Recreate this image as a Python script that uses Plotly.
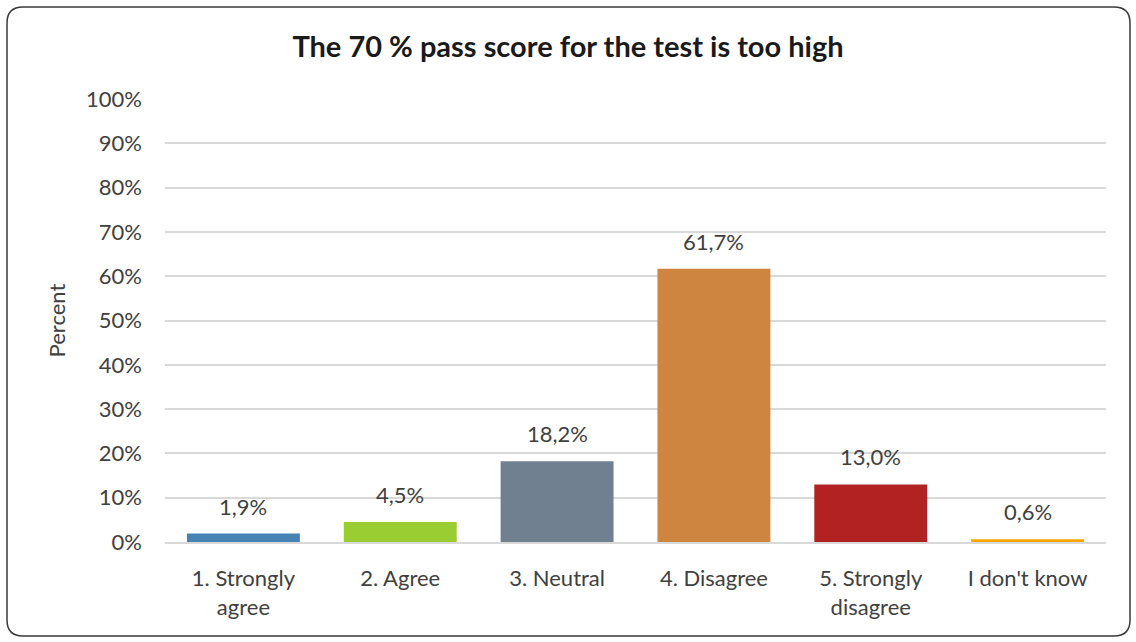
import plotly.graph_objects as go

# Survey answers and their share of respondents (percent)
categories = ["1. Strongly<br>agree", "2. Agree", "3. Neutral", "4. Disagree",
              "5. Strongly<br>disagree", "I don't know"]
percent = [1.9, 4.5, 18.2, 61.7, 13.0, 0.6]
bar_colors = ["#4682B4", "#9ACD32", "#708090", "#CD853F", "#B22222", "#FFA500"]

W, H = 1136, 642
L, R, T, B = 165, 30, 99, 100
pw, ph = W - L - R, H - T - B


def px(x):
    return (x - L) / pw


def py(y):
    return (H - B - y) / ph


# labels with decimal comma
labels = [f"{v:.1f}".replace(".", ",") + "%" for v in percent]

fig = go.Figure(go.Bar(
    x=categories, y=percent,
    marker=dict(color=bar_colors, line=dict(width=0)),
    width=0.72,
))

# value labels a bit above each bar
for cat, val, lab in zip(categories, percent, labels):
    fig.add_annotation(x=cat, y=val, text=lab, showarrow=False,
                       yanchor="bottom", yshift=12,
                       font=dict(size=22, color="#404040"))

# rounded frame round the whole chart
x0, y0, x1, y1, r = 7, 7, 1130, 636, 16
path = (f"M {px(x0 + r)},{py(y0)} L {px(x1 - r)},{py(y0)} "
        f"Q {px(x1)},{py(y0)} {px(x1)},{py(y0 + r)} "
        f"L {px(x1)},{py(y1 - r)} Q {px(x1)},{py(y1)} {px(x1 - r)},{py(y1)} "
        f"L {px(x0 + r)},{py(y1)} Q {px(x0)},{py(y1)} {px(x0)},{py(y1 - r)} "
        f"L {px(x0)},{py(y0 + r)} Q {px(x0)},{py(y0)} {px(x0 + r)},{py(y0)} Z")

fig.add_shape(type="path", path=path, xref="paper", yref="paper",
              line=dict(color="#3a3a3a", width=1.5), layer="below")

fig.update_layout(
    width=W, height=H,
    margin=dict(l=L, r=R, t=T, b=B),
    paper_bgcolor="white", plot_bgcolor="white",
    font=dict(family="Lato, 'Open Sans', sans-serif", size=22, color="#404040"),
    title=dict(text="<b>The 70 % pass score for the test is too high</b>",
               x=0.5, xanchor="center", y=0.927, yanchor="middle",
               font=dict(size=29, color="#1a1a1a")),
    showlegend=False,
)

fig.update_yaxes(
    range=[0, 100], dtick=10, ticksuffix="%",
    showgrid=True, gridcolor="#d9d9d9", gridwidth=2,
    zeroline=False, showline=False,
    ticklabelstandoff=22,
    title=dict(text="Percent", font=dict(size=22), standoff=14),
)
fig.update_xaxes(
    showline=True, linecolor="#d9d9d9", linewidth=2,
    ticklabelstandoff=16,
    tickfont=dict(size=22),
)

# the page body has a default 8px margin; drop it so the chart sits at 0,0
fig.write_html("out.html", config={"displayModeBar": False},
               post_script="document.body.style.margin='0';")
